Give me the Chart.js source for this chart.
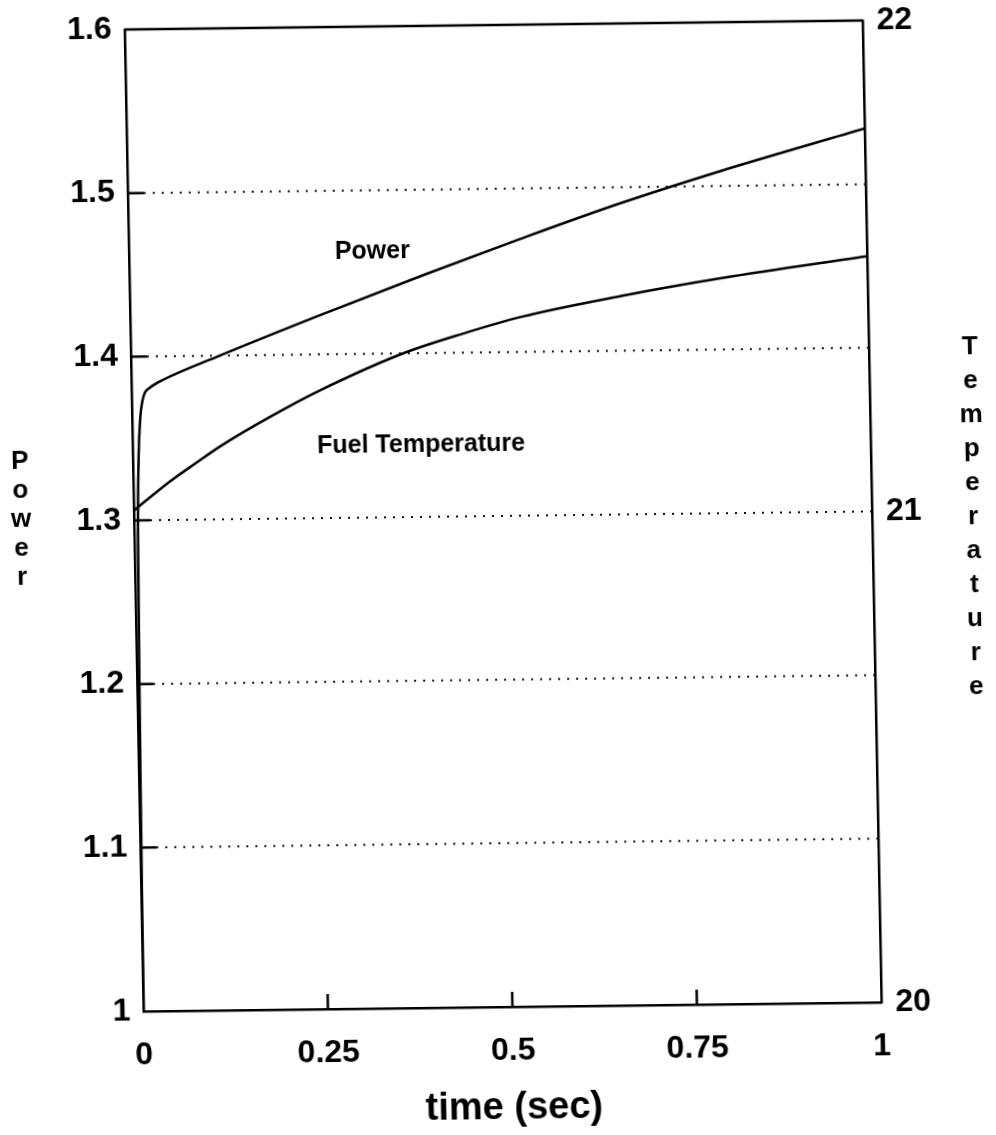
<!DOCTYPE html>
<html>
<head>
<meta charset="utf-8">
<title>Power and fuel temperature</title>
<script src="https://cdn.jsdelivr.net/npm/chart.js@4.4.1/dist/chart.umd.min.js"></script>
<style>
  html, body { margin: 0; padding: 0; background: #fff; overflow: hidden; }
  /* the plotted sheet sits slightly askew on the page */
  #plot { display: block; transform: rotate(-0.7deg) skewX(0.4deg); }
</style>
</head>
<body>
<canvas id="plot" width="996" height="1135"></canvas>
<script>
// axis ticks
const timeTicks = [0, 0.25, 0.5, 0.75, 1];
const timeTickLabels = ['0', '0.25', '0.5', '0.75', '1'];
const powerTicks = [1, 1.1, 1.2, 1.3, 1.4, 1.5, 1.6];
const powerTickLabels = ['1', '1.1', '1.2', '1.3', '1.4', '1.5', '1.6'];
const tempTicks = [20, 21, 22];
const tempTickLabels = ['20', '21', '22'];

// relative power: prompt jump then slow rise
const powerTime = [0, 0.001, 0.002, 0.003, 0.005, 0.008, 0.011, 0.014, 0.018, 0.025, 0.04, 0.12, 0.257, 0.4, 0.53, 0.666, 0.803, 1.0];
const powerValues = [1.0, 1.07, 1.14, 1.2, 1.29, 1.34, 1.362, 1.372, 1.378, 1.381, 1.385, 1.40, 1.424, 1.448, 1.469, 1.490, 1.509, 1.534];

// fuel temperature (right-hand scale)
const fuelTime = [0, 0.004, 0.025, 0.052, 0.085, 0.12, 0.19, 0.255, 0.368, 0.45, 0.53, 0.666, 0.803, 1.0];
const fuelTemp = [21.02, 21.025, 21.05, 21.081, 21.115, 21.15, 21.21, 21.26, 21.333, 21.372, 21.405, 21.445, 21.479, 21.52];

// curve captions, in time / power units
const captionText = ['Power', 'Fuel Temperature'];
const captionTime = [0.279, 0.25];
const captionPower = [1.4585, 1.34];

const FONT = '"Liberation Sans", Arial, Helvetica, sans-serif';
Chart.defaults.font.family = FONT;
Chart.defaults.font.weight = 'bold';
Chart.defaults.color = '#000';

const toPoints = (xs, ys) => xs.map((x, i) => ({ x: x, y: ys[i] }));

// frame top, dotted grid, inward ticks, captions and stacked axis titles
const decorations = {
  id: 'decorations',
  beforeDatasetsDraw(chart) {
    const { ctx, chartArea: a, scales } = chart;
    ctx.save();
    ctx.strokeStyle = '#111';
    ctx.lineWidth = 2;
    ctx.setLineDash([2, 7]);
    powerTicks.slice(1, -1).forEach(v => {
      const py = scales.yPower.getPixelForValue(v);
      ctx.beginPath();
      ctx.moveTo(a.left + 16, py);
      ctx.lineTo(a.right, py);
      ctx.stroke();
    });
    ctx.restore();
  },
  afterDraw(chart) {
    const { ctx, chartArea: a, scales } = chart;
    ctx.save();
    ctx.strokeStyle = '#000';
    ctx.lineWidth = 2.5;
    ctx.beginPath();
    ctx.moveTo(a.left, a.top);
    ctx.lineTo(a.right, a.top);
    ctx.stroke();

    ctx.beginPath();
    powerTicks.slice(1, -1).forEach(v => {
      const py = scales.yPower.getPixelForValue(v);
      ctx.moveTo(a.left, py);
      ctx.lineTo(a.left + 16, py);
    });
    timeTicks.slice(1, -1).forEach(v => {
      const px = scales.x.getPixelForValue(v);
      ctx.moveTo(px, a.bottom);
      ctx.lineTo(px, a.bottom - 15);
    });
    ctx.stroke();

    ctx.fillStyle = '#000';
    ctx.font = 'bold 25px ' + FONT;
    ctx.textAlign = 'left';
    ctx.textBaseline = 'alphabetic';
    captionText.forEach((txt, i) => {
      ctx.fillText(txt, scales.x.getPixelForValue(captionTime[i]), scales.yPower.getPixelForValue(captionPower[i]));
    });

    ctx.font = 'bold 26px ' + FONT;
    ctx.textAlign = 'center';
    'Power'.split('').forEach((ch, i) => ctx.fillText(ch, 22, 463 + i * 29));
    'Temperature'.split('').forEach((ch, i) => ctx.fillText(ch, 974, 360 + i * 34));
    ctx.restore();
  }
};

const axisBorder = { display: true, color: '#000', width: 2.5 };
const tickFont = { size: 32 };

// fixed side widths; end labels may overhang the plot edges
const fitSide = w => s => { s.width = w; s.paddingTop = 0; s.paddingBottom = 0; };

new Chart(document.getElementById('plot'), {
  type: 'line',
  data: {
    datasets: [
      {
        label: 'Power',
        data: toPoints(powerTime, powerValues),
        yAxisID: 'yPower',
        borderColor: '#000',
        borderWidth: 2.5,
        pointRadius: 0,
        fill: false,
        cubicInterpolationMode: 'monotone'
      },
      {
        label: 'Fuel Temperature',
        data: toPoints(fuelTime, fuelTemp),
        yAxisID: 'yTemp',
        borderColor: '#000',
        borderWidth: 2.5,
        pointRadius: 0,
        fill: false,
        cubicInterpolationMode: 'monotone'
      }
    ]
  },
  options: {
    responsive: false,
    animation: false,
    events: [],
    layout: { padding: { top: 25, left: 0, right: 0, bottom: 0 } },
    plugins: {
      legend: { display: false },
      tooltip: { enabled: false }
    },
    scales: {
      x: {
        type: 'linear',
        min: 0,
        max: 1,
        grid: { display: false, drawTicks: false },
        border: axisBorder,
        afterBuildTicks: s => { s.ticks = timeTicks.map(v => ({ value: v })); },
        afterFit: s => { s.height = 128; s.paddingLeft = 0; s.paddingRight = 0; },
        ticks: {
          font: tickFont,
          padding: 25,
          maxRotation: 0,
          callback: (v, i) => timeTickLabels[i]
        },
        title: {
          display: true,
          text: 'time (sec)',
          font: { size: 38 },
          padding: { top: 0, bottom: 4 }
        }
      },
      yPower: {
        type: 'linear',
        position: 'left',
        min: 1,
        max: 1.6,
        grid: { display: false, drawTicks: false },
        border: axisBorder,
        afterBuildTicks: s => { s.ticks = powerTicks.map(v => ({ value: v })); },
        afterFit: fitSide(135),
        ticks: {
          font: tickFont,
          padding: 13,
          callback: (v, i) => powerTickLabels[i]
        }
      },
      yTemp: {
        type: 'linear',
        position: 'right',
        min: 20,
        max: 22,
        grid: { display: false, drawTicks: false },
        border: axisBorder,
        afterBuildTicks: s => { s.ticks = tempTicks.map(v => ({ value: v })); },
        afterFit: fitSide(123),
        ticks: {
          font: tickFont,
          padding: 14,
          callback: (v, i) => tempTickLabels[i]
        }
      }
    }
  },
  plugins: [decorations]
});
</script>
</body>
</html>
